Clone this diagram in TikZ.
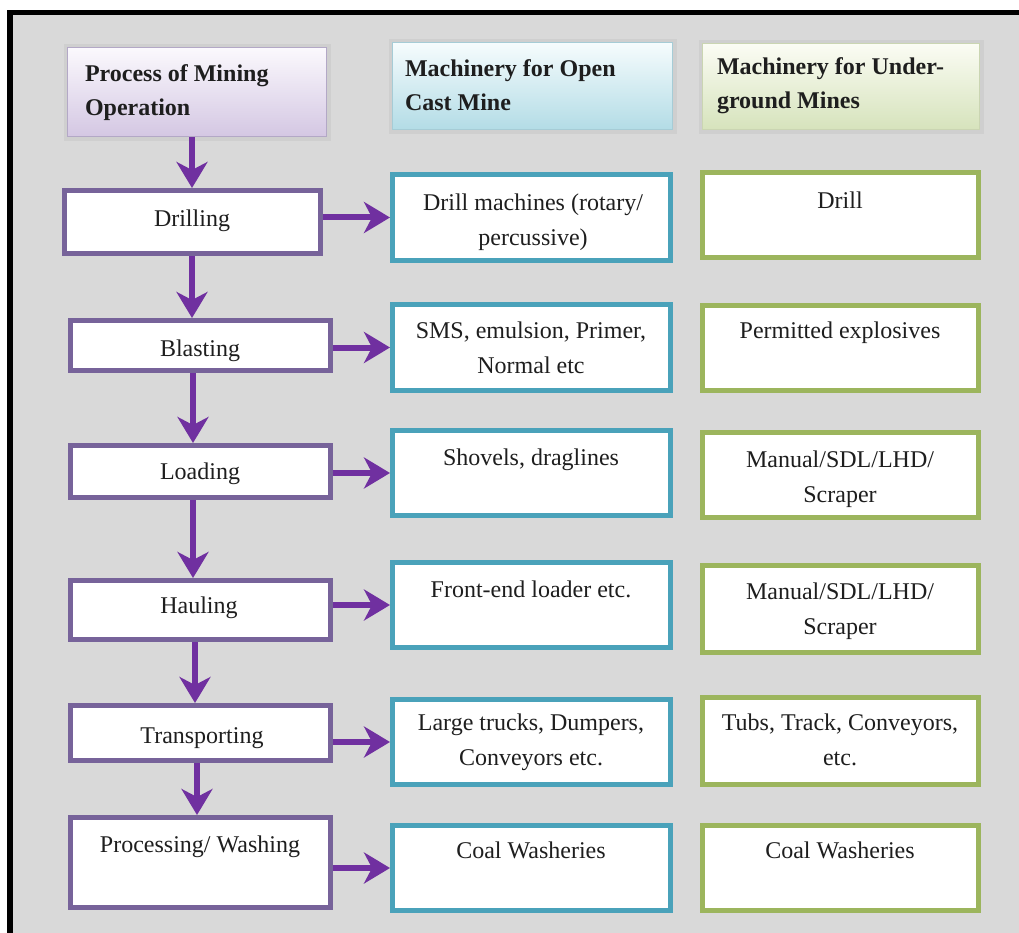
\documentclass[tikz,border=0pt]{standalone}
\usepackage{fontspec}
\setmainfont{Liberation Serif}
\usetikzlibrary{arrows.meta}
\definecolor{bgc}{HTML}{D9D9D9}
\definecolor{pborder}{HTML}{77639A}
\definecolor{cborder}{HTML}{4AA2BA}
\definecolor{gborder}{HTML}{9CB55D}
\definecolor{arrowc}{HTML}{7030A0}
\definecolor{txtc}{HTML}{1E1E1E}
\definecolor{shadc}{HTML}{CFCFCF}
\definecolor{hpA}{HTML}{FBF9FD}\definecolor{hpB}{HTML}{D4C7E3}\definecolor{hpD}{HTML}{B3A8C6}
\definecolor{hcA}{HTML}{F6FCFD}\definecolor{hcB}{HTML}{B3DCE6}\definecolor{hcD}{HTML}{A6CCD6}
\definecolor{hgA}{HTML}{FBFCF4}\definecolor{hgB}{HTML}{D6E3BC}\definecolor{hgD}{HTML}{CAD5B2}
\begin{document}
\begin{tikzpicture}[x=1pt,y=-1pt,
  lbox/.style={draw=pborder, line width=5pt, fill=white, inner sep=0pt},
  cbox/.style={draw=cborder, line width=5pt, fill=white, inner sep=0pt, minimum width=278pt},
  gbox/.style={draw=gborder, line width=5pt, fill=white, inner sep=0pt, minimum width=276pt},
  hdrbox/.style={line width=1pt, inner sep=0pt},
  hshadow/.style={fill=shadc, draw=none, inner sep=0pt},
  txt/.style={text=txtc, inner sep=0pt, outer sep=0pt, align=center, anchor=north,
              font=\fontsize{24}{35}\selectfont},
  htxt/.style={text=txtc, inner sep=0pt, outer sep=0pt, align=left, anchor=north west,
              font=\fontsize{24}{34}\selectfont\bfseries},
  flow/.style={draw=arrowc, line width=6pt, -{Stealth[length=26pt, width=31pt, inset=8pt]}}
]
\useasboundingbox (0,0) rectangle (1019,933);
\fill[white] (0,0) rectangle (1019,933);
\fill[bgc] (10,12.5) rectangle (1019,933);
\draw[black, line width=5.5pt, line join=miter] (10,940) -- (10,12.5) -- (1030,12.5);

% header shadows (soft halo)
\node[hshadow, minimum width=267pt, minimum height=97pt] (S1) at (197,93) {};
\node[hshadow, minimum width=288pt, minimum height=95pt] (S2) at (532.5,87) {};
\node[hshadow, minimum width=285pt, minimum height=94pt] (S3) at (841,87.5) {};
% headers
\node[hdrbox, draw=hpD, top color=hpA, bottom color=hpB, minimum width=259pt, minimum height=89pt] (H1) at (197,92) {};
\node[hdrbox, draw=hcD, top color=hcA, bottom color=hcB, minimum width=280pt, minimum height=87pt] (H2) at (532.5,86) {};
\node[hdrbox, draw=hgD, top color=hgA, bottom color=hgB, minimum width=277pt, minimum height=86pt] (H3) at (841,86.5) {};
\node[htxt] (H1t) at (85,62) {\rule{0pt}{20pt}Process of Mining\\Operation};
\node[htxt] (H2t) at (405,57) {\rule{0pt}{20pt}Machinery for Open\\Cast Mine};
\node[htxt] (H3t) at (717,55) {\rule{0pt}{20pt}Machinery for Under-\\ground Mines};

% left process boxes
\node[lbox, minimum width=256pt, minimum height=63pt] (L1) at (192.5,222) {};
\node[lbox, minimum width=260pt, minimum height=50pt] (L2) at (200.5,345.5) {};
\node[lbox, minimum width=260pt, minimum height=52pt] (L3) at (200.5,471.5) {};
\node[lbox, minimum width=260pt, minimum height=59pt] (L4) at (200.5,610) {};
\node[lbox, minimum width=260pt, minimum height=55pt] (L5) at (200.5,733) {};
\node[lbox, minimum width=260pt, minimum height=90pt] (L6) at (200.5,862.5) {};
\node[txt] (L1t) at (192,207) {\rule{0pt}{20pt}Drilling};
\node[txt] (L2t) at (200,336) {\rule{0pt}{20pt}Blasting};
\node[txt] (L3t) at (200,459) {\rule{0pt}{20pt}Loading};
\node[txt] (L4t) at (199,593) {\rule{0pt}{20pt}Hauling};
\node[txt] (L5t) at (202,723) {\rule{0pt}{20pt}Transporting};
\node[txt] (L6t) at (200,832) {\rule{0pt}{20pt}Processing/ Washing};

% open cast boxes
\node[cbox, minimum height=86pt] (C1) at (531.5,217.5) {};
\node[cbox, minimum height=86pt] (C2) at (531.5,347.5) {};
\node[cbox, minimum height=85pt] (C3) at (531.5,473) {};
\node[cbox, minimum height=85pt] (C4) at (531.5,605) {};
\node[cbox, minimum height=85pt] (C5) at (531.5,742) {};
\node[cbox, minimum height=85pt] (C6) at (531.5,868) {};
\node[txt] (C1t) at (533,191) {\rule{0pt}{20pt}Drill machines (rotary/\\percussive)};
\node[txt] (C2t) at (531,318) {\rule{0pt}{20pt}SMS, emulsion, Primer,\\Normal etc};
\node[txt] (C3t) at (531,445) {\rule{0pt}{20pt}Shovels, draglines};
\node[txt] (C4t) at (531,577) {\rule{0pt}{20pt}Front-end loader etc.};
\node[txt] (C5t) at (531,710) {\rule{0pt}{20pt}Large trucks, Dumpers,\\Conveyors etc.};
\node[txt] (C6t) at (531,838) {\rule{0pt}{20pt}Coal Washeries};

% underground boxes
\node[gbox, minimum height=85pt] (G1) at (840.5,215) {};
\node[gbox, minimum height=85pt] (G2) at (840.5,348) {};
\node[gbox, minimum height=85pt] (G3) at (840.5,475) {};
\node[gbox, minimum height=87pt] (G4) at (840.5,609) {};
\node[gbox, minimum height=87pt] (G5) at (840.5,741) {};
\node[gbox, minimum height=85pt] (G6) at (840.5,868) {};
\node[txt] (G1t) at (840,189) {\rule{0pt}{20pt}Drill};
\node[txt] (G2t) at (840,318) {\rule{0pt}{20pt}Permitted explosives};
\node[txt] (G3t) at (840,447) {\rule{0pt}{20pt}Manual/SDL/LHD/\\Scraper};
\node[txt] (G4t) at (840,579) {\rule{0pt}{20pt}Manual/SDL/LHD/\\Scraper};
\node[txt] (G5t) at (840,710) {\rule{0pt}{20pt}Tubs, Track, Conveyors,\\etc.};
\node[txt] (G6t) at (840,838) {\rule{0pt}{20pt}Coal Washeries};

% vertical flow
\draw[flow] ([xshift=-5pt]H1.south) -- ([xshift=-0.5pt]L1.north);
\draw[flow] ([xshift=-0.5pt]L1.south) -- ([xshift=-8.5pt]L2.north);
\draw[flow] ([xshift=-7.5pt]L2.south) -- ([xshift=-7.5pt]L3.north);
\draw[flow] ([xshift=-7.5pt]L3.south) -- ([xshift=-7.5pt]L4.north);
\draw[flow] ([xshift=-5.5pt]L4.south) -- ([xshift=-5.5pt]L5.north);
\draw[flow] ([xshift=-3.5pt]L5.south) -- ([xshift=-3.5pt]L6.north);

% horizontal flow
\draw[flow] (L1.east |- C1.west) -- (C1.west);
\draw[flow] (L2.east |- C2.west) -- (C2.west);
\draw[flow] (L3.east |- C3.west) -- (C3.west);
\draw[flow] (L4.east |- C4.west) -- (C4.west);
\draw[flow] (L5.east |- C5.west) -- (C5.west);
\draw[flow] (L6.east |- C6.west) -- (C6.west);
\end{tikzpicture}
\end{document}
